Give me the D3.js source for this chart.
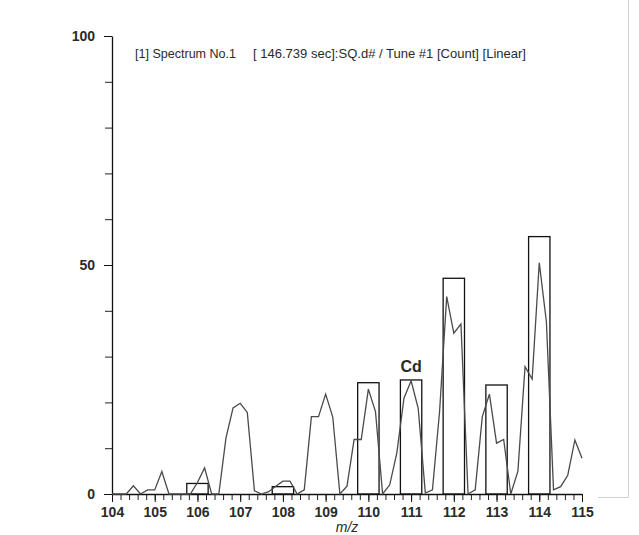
<!DOCTYPE html>
<html>
<head>
<meta charset="utf-8">
<script src="https://cdn.jsdelivr.net/npm/d3@7"></script>
<style>
  body { margin: 0; background: #fff; }
  svg { display: block; }
  .lbl { font-family: 'Liberation Sans Narrow', 'Arial Narrow', 'Liberation Sans', sans-serif; fill: #2a2a2a; }
</style>
</head>
<body>
<svg></svg>
<script>
let svgWidth = 639
let svgHeight = 535

// spectrum, one point every 1/6 of a mass unit from 104 to 115
let mzStart = 104
let mzStep = 1 / 6
let counts = [
  0, 0, 0, 1.8, 0, 0.9, 0.9, 4.9, 0, 0, 0, 0, 2.5, 5.7, 0, 0,
  12.2, 18.8, 19.8, 17.8, 0.7, 0, 0.5, 1.7, 2.8, 2.8, 0, 0.9,
  16.9, 16.9, 21.8, 16.8, 0, 1.7, 11.9, 11.9, 22.9, 18.0, 0, 2.0,
  9, 20.9, 24.7, 18.7, 0.2, 0.9, 18, 43.1, 35.1, 37.1, 0, 0.9,
  16.9, 21.8, 11.1, 11.9, 0, 5, 27.8, 25.1, 50.5, 37.6, 0.9, 1.6,
  4.1, 11.8, 7.8
]

// isotope pattern boxes for Cd
let boxMz = [106, 108, 110, 111, 112, 113, 114]
let boxHeight = [2.3, 1.6, 24.3, 24.9, 47.1, 23.8, 56.2]
let boxHalfWidth = 0.25

let xTicks = [104, 105, 106, 107, 108, 109, 110, 111, 112, 113, 114, 115]
let yTicks = [0, 50, 100]
let xMinorStep = 0.2
let yMinorStep = 10

let titleLeft = '[1] Spectrum No.1'
let titleRight = '[ 146.739 sec]:SQ.d# / Tune #1 [Count] [Linear]'

let svg = d3.select('svg').attr('width', svgWidth).attr('height', svgHeight)
svg.append('rect').attr('width', svgWidth).attr('height', svgHeight).attr('fill', '#fff')

let xScale = d3.scaleLinear().domain([104, 115]).range([112, 582])
let yScale = d3.scaleLinear().domain([0, 100]).range([494, 36])

// faint frame at the right
svg.append('line').attr('x1', 628.5).attr('x2', 628.5).attr('y1', 0).attr('y2', 497)
  .attr('stroke', '#d0d0d0').attr('stroke-width', 1)
svg.append('line').attr('x1', 598).attr('x2', 628.5).attr('y1', 497.5).attr('y2', 497.5)
  .attr('stroke', '#d0d0d0').attr('stroke-width', 1)

// minor ticks
let xMinor = d3.range(104, 115.001, xMinorStep)
let yMinor = d3.range(0, 100.001, yMinorStep)

svg.append('g').attr('transform', 'translate(0,494)')
  .call(d3.axisBottom(xScale).tickValues(xMinor).tickSize(6).tickFormat(''))
  .call(g => g.select('.domain').remove())
  .selectAll('line').attr('stroke', '#222')

svg.append('g').attr('transform', 'translate(112,0)')
  .call(d3.axisLeft(yScale).tickValues(yMinor).tickSize(7).tickFormat(''))
  .call(g => g.select('.domain').remove())
  .selectAll('line').attr('stroke', '#222')

// major axes
let xAxis = svg.append('g').attr('transform', 'translate(0,494)')
  .call(d3.axisBottom(xScale).tickValues(xTicks).tickSize(8).tickPadding(5).tickSizeOuter(0).tickFormat(d3.format('d')))
xAxis.select('.domain').attr('stroke', '#111').attr('stroke-width', 1.3)
xAxis.selectAll('line').attr('stroke', '#111')
xAxis.selectAll('text').attr('class', 'lbl').attr('font-size', 14).attr('font-weight', 'bold')

let yAxis = svg.append('g').attr('transform', 'translate(112,0)')
  .call(d3.axisLeft(yScale).tickValues(yTicks).tickSize(8).tickPadding(9).tickSizeOuter(0))
yAxis.select('.domain').attr('stroke', '#111').attr('stroke-width', 1.3)
yAxis.selectAll('line').attr('stroke', '#111')
yAxis.selectAll('text').attr('class', 'lbl').attr('font-size', 14).attr('font-weight', 'bold')

// boxes
svg.append('g').selectAll('rect')
  .data(boxMz)
  .enter()
  .append('rect')
  .attr('x', d => xScale(d - boxHalfWidth))
  .attr('width', d => xScale(d + boxHalfWidth) - xScale(d - boxHalfWidth))
  .attr('y', (d, i) => yScale(boxHeight[i]))
  .attr('height', (d, i) => yScale(0) - yScale(boxHeight[i]))
  .attr('fill', 'none')
  .attr('stroke', '#111')
  .attr('stroke-width', 1.3)

// spectrum line
let line = d3.line()
  .x((d, i) => xScale(mzStart + i * mzStep))
  .y(d => yScale(d))

svg.append('path')
  .datum(counts)
  .attr('d', line)
  .attr('fill', 'none')
  .attr('stroke', '#4a4a4a')
  .attr('stroke-width', 1.3)
  .attr('stroke-linejoin', 'miter')

// texts
svg.append('text').attr('class', 'lbl').attr('x', 135).attr('y', 58)
  .attr('font-size', 13).attr('textLength', 101).attr('lengthAdjust', 'spacingAndGlyphs')
  .text(titleLeft)
svg.append('text').attr('class', 'lbl').attr('x', 253).attr('y', 58)
  .attr('font-size', 13).attr('textLength', 273).attr('lengthAdjust', 'spacingAndGlyphs')
  .text(titleRight)

svg.append('text').attr('class', 'lbl').attr('x', xScale(111)).attr('y', 372)
  .attr('text-anchor', 'middle').attr('font-size', 16).attr('font-weight', 'bold')
  .text('Cd')

svg.append('text').attr('class', 'lbl').attr('x', 347).attr('y', 532)
  .attr('text-anchor', 'middle').attr('font-size', 14).attr('font-style', 'italic')
  .text('m/z')
</script>
</body>
</html>
